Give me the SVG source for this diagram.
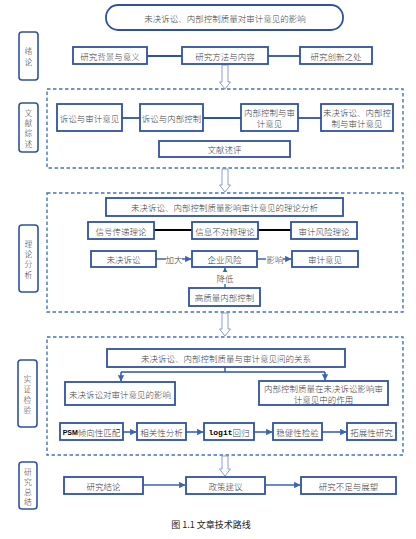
<svg xmlns="http://www.w3.org/2000/svg" width="416" height="539" viewBox="0 0 416 539">
<style>
.box{fill:#fff;stroke:#2f52a0;stroke-width:1.8}
.lab{fill:#fff;stroke:#2f52a0;stroke-width:1.6}
.dash{fill:none;stroke:#4472c4;stroke-width:1.4;stroke-dasharray:3.5,2.5}
.t{font-family:"Noto Sans CJK SC","Noto Sans",sans-serif;font-size:8.5px;font-weight:300;fill:#404040;text-anchor:middle;dominant-baseline:central}
.tl{font-family:"Noto Sans CJK SC","Noto Sans",sans-serif;font-size:7.8px;font-weight:300;fill:#404040;text-anchor:middle;dominant-baseline:central}
.ln{stroke:#2f52a0;stroke-width:1.8;fill:none}
.bl{stroke:#000;stroke-width:2;fill:none}
.ar{stroke:#3a63b8;stroke-width:1.6;fill:none;marker-end:url(#ah)}
.hol{fill:#fff;stroke:#7f93c0;stroke-width:0.9}
.cap{font-family:"Noto Sans CJK SC","Noto Sans",sans-serif;font-size:9px;fill:#222;text-anchor:middle;dominant-baseline:central}
</style>
<defs>
<marker id="ah" viewBox="0 0 6 6" refX="5.5" refY="3" markerWidth="4" markerHeight="4" orient="auto"><path d="M0,0L6,3L0,6z" fill="#3a63b8"/></marker>
<marker id="aht" viewBox="0 0 6 6" refX="5.5" refY="3" markerWidth="4" markerHeight="4" orient="auto"><path d="M0,0L6,3L0,6z" fill="#1f7a8c"/></marker>
</defs>
<rect width="416" height="539" fill="#fff"/>

<g id="frames">
<rect class="dash" x="47" y="89" width="356" height="79"/>
<rect class="dash" x="47" y="193" width="356" height="119"/>
<rect class="dash" x="47" y="337" width="356" height="118"/>
</g>

<g id="connectors">
<line class="ln" x1="147" y1="56" x2="182" y2="56"/>
<line class="ln" x1="268" y1="56" x2="300" y2="56"/>
<line class="ln" x1="122" y1="118" x2="140" y2="118"/>
<line class="ln" x1="203" y1="118" x2="241" y2="118"/>
<line class="ln" x1="298" y1="118" x2="321" y2="118"/>
<line class="bl" x1="154" y1="230" x2="192" y2="230"/>
<line class="bl" x1="258" y1="230" x2="291" y2="230"/>
<line class="ar" x1="156" y1="259" x2="191" y2="259"/>
<rect x="166" y="253" width="16" height="12" fill="#fff"/>
<text class="t" x="174" y="259">加大</text>
<line class="ar" x1="257" y1="259" x2="291" y2="259"/>
<rect x="266" y="253" width="17" height="12" fill="#fff"/>
<text class="t" x="275" y="259">影响</text>
<line x1="225" y1="288" x2="225" y2="268" stroke="#1f7a8c" stroke-width="1.4" marker-end="url(#aht)"/>
<rect x="216" y="272" width="18" height="12" fill="#fff"/>
<text class="t" x="225" y="278">降低</text>
<polyline class="ln" points="225,367 225,372" style="stroke-width:1.4"/>
<line class="ln" x1="121" y1="372" x2="325" y2="372" style="stroke-width:1.4"/>
<line class="ar" x1="121" y1="372" x2="121" y2="381"/>
<line class="ar" x1="325" y1="372" x2="325" y2="380"/>
<line class="ar" x1="123" y1="432" x2="136" y2="432"/>
<line class="ar" x1="186" y1="432" x2="203" y2="432"/>
<line class="ar" x1="254" y1="432" x2="272" y2="432"/>
<line class="ar" x1="322" y1="432" x2="346" y2="432"/>
<line class="ar" x1="143" y1="485" x2="185" y2="485"/>
<line class="ar" x1="265" y1="485" x2="300" y2="485"/>
<path class="hol" d="M222,65H228V82H230.5L225,89L219.5,82H222Z"/>
<path class="hol" d="M222,169H228V185H230.5L225,192L219.5,185H222Z"/>
<path class="hol" d="M222,313H228V329H230.5L225,336L219.5,329H222Z"/>
<path class="hol" d="M222,456H228V469H230.5L225,476L219.5,469H222Z"/>
</g>

<g id="title"><rect class="box" x="106" y="5" width="237" height="25" rx="12"/><text class="t" x="225" y="17.5">未决诉讼、内部控制质量对审计意见的影响</text></g>

<g id="lab1"><rect class="lab" x="19" y="32" width="19" height="48" rx="3"/><text class="tl" x="28.5" y="50">绪</text><text class="tl" x="28.5" y="61">论</text></g>
<g id="lab2"><rect class="lab" x="19" y="103" width="19" height="49" rx="3"/><text class="tl" x="28.5" y="112">文</text><text class="tl" x="28.5" y="122.3">献</text><text class="tl" x="28.5" y="132.6">综</text><text class="tl" x="28.5" y="143">述</text></g>
<g id="lab3"><rect class="lab" x="19" y="225" width="19" height="67" rx="3"/><text class="tl" x="28.5" y="243">理</text><text class="tl" x="28.5" y="253.3">论</text><text class="tl" x="28.5" y="263.6">分</text><text class="tl" x="28.5" y="274">析</text></g>
<g id="lab4"><rect class="lab" x="18" y="360" width="19" height="67" rx="3"/><text class="tl" x="27.5" y="378">实</text><text class="tl" x="27.5" y="388.5">证</text><text class="tl" x="27.5" y="399">检</text><text class="tl" x="27.5" y="409.5">验</text></g>
<g id="lab5"><rect class="lab" x="19" y="462" width="18" height="47" rx="3"/><text class="tl" x="28" y="471">研</text><text class="tl" x="28" y="481">究</text><text class="tl" x="28" y="491">总</text><text class="tl" x="28" y="501">结</text></g>

<g id="n1"><rect class="box" x="73" y="47" width="74" height="17"/><text class="t" x="110" y="55.5">研究背景与意义</text></g>
<g id="n2"><rect class="box" x="182" y="47" width="86" height="17"/><text class="t" x="225" y="55.5">研究方法与内容</text></g>
<g id="n3"><rect class="box" x="300" y="47" width="72" height="17"/><text class="t" x="336" y="55.5">研究创新之处</text></g>

<g id="n4"><rect class="box" x="57" y="104" width="65" height="27"/><text class="t" x="89.5" y="117.5">诉讼与审计意见</text></g>
<g id="n5"><rect class="box" x="140" y="104" width="63" height="27"/><text class="t" x="171.5" y="117.5">诉讼与内部控制</text></g>
<g id="n6"><rect class="box" x="241" y="104" width="57" height="27"/><text class="t" x="269.5" y="112">内部控制与审</text><text class="t" x="269.5" y="123">计意见</text></g>
<g id="n7"><rect class="box" x="321" y="104" width="72" height="27"/><text class="t" x="357" y="112">未决诉讼、内部控</text><text class="t" x="357" y="123">制与审计意见</text></g>
<g id="n8"><rect class="box" x="159" y="141" width="131" height="16"/><text class="t" x="224.5" y="149">文献述评</text></g>

<g id="n9"><rect class="box" x="106" y="198" width="237" height="18"/><text class="t" x="224.5" y="207">未决诉讼、内部控制质量影响审计意见的理论分析</text></g>
<g id="n10"><rect class="box" x="88" y="222" width="66" height="17"/><text class="t" x="121" y="230.5">信号传递理论</text></g>
<g id="n11"><rect class="box" x="192" y="222" width="66" height="17"/><text class="t" x="225" y="230.5">信息不对称理论</text></g>
<g id="n12"><rect class="box" x="291" y="222" width="66" height="17"/><text class="t" x="324" y="230.5">审计风险理论</text></g>
<g id="n13"><rect class="box" x="91" y="251" width="65" height="16"/><text class="t" x="123.5" y="259">未决诉讼</text></g>
<g id="n14"><rect class="box" x="192" y="251" width="65" height="16"/><text class="t" x="224.5" y="259">企业风险</text></g>
<g id="n15"><rect class="box" x="292" y="251" width="66" height="16"/><text class="t" x="325" y="259">审计意见</text></g>
<g id="n16"><rect class="box" x="189" y="288" width="71" height="18"/><text class="t" x="224.5" y="297">高质量内部控制</text></g>

<g id="n17"><rect class="box" x="107" y="349" width="238" height="18"/><text class="t" x="226" y="358">未决诉讼、内部控制质量与审计意见间的关系</text></g>
<g id="n18"><rect class="box" x="65" y="382" width="110" height="23"/><text class="t" x="120" y="393.5">未决诉讼对审计意见的影响</text></g>
<g id="n19"><rect class="box" x="259" y="381" width="129" height="24"/><text class="t" x="323.5" y="388">内部控制质量在未决诉讼影响审</text><text class="t" x="323.5" y="399">计意见中的作用</text></g>
<g id="n20"><rect class="box" x="60" y="423" width="63" height="17"/><text class="t" x="91.5" y="431.5"><tspan font-family="Liberation Sans" font-weight="bold" font-size="7" fill="#000">PSM</tspan>倾向性匹配</text></g>
<g id="n21"><rect class="box" x="137" y="423" width="49" height="17"/><text class="t" x="161.5" y="431.5">相关性分析</text></g>
<g id="n22"><rect class="box" x="204" y="423" width="50" height="17"/><text class="t" x="229" y="431.5"><tspan font-family="Liberation Mono" font-weight="bold" font-size="8" fill="#000">logit</tspan>回归</text></g>
<g id="n23"><rect class="box" x="273" y="423" width="49" height="17"/><text class="t" x="297.5" y="431.5">稳健性检验</text></g>
<g id="n24"><rect class="box" x="347" y="423" width="49" height="17"/><text class="t" x="371.5" y="431.5">拓展性研究</text></g>

<g id="n25"><rect class="box" x="64" y="477" width="79" height="17"/><text class="t" x="103.5" y="485.5">研究结论</text></g>
<g id="n26"><rect class="box" x="186" y="477" width="79" height="17"/><text class="t" x="225.5" y="485.5">政策建议</text></g>
<g id="n27"><rect class="box" x="301" y="477" width="95" height="17"/><text class="t" x="348.5" y="485.5">研究不足与展望</text></g>

<text class="cap" x="211" y="524">图 1.1 文章技术路线</text>
</svg>
